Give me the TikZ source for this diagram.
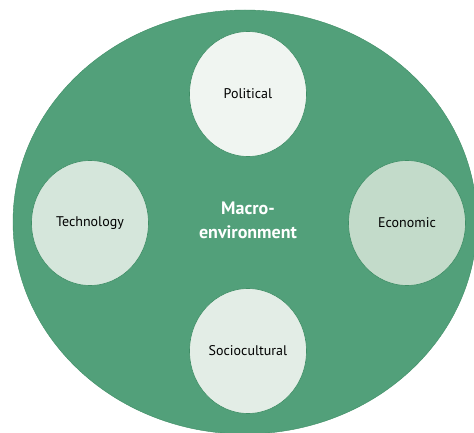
\documentclass[tikz,border=0pt]{standalone}
\usepackage{fontspec}
\setmainfont{PT Sans}
\usetikzlibrary{shapes.geometric}
\definecolor{envgreen}{HTML}{52A07A}
\definecolor{edgegreen}{HTML}{3F8E66}
\tikzstyle{factor}=[ellipse,draw=edgegreen,line width=0.6pt,minimum width=117pt,minimum height=125pt,inner sep=0pt,font=\fontsize{14}{16}\selectfont,text=black]

\begin{document}
\begin{tikzpicture}[x=1pt,y=1pt]
		\useasboundingbox (0,0) rectangle (474,432);
		\fill[white] (0,0) rectangle (474,432);
		\node[ellipse,fill=envgreen,draw=edgegreen,minimum width=464pt,minimum height=424pt,inner sep=0pt] (env) at (245,210) {};
		\node[align=center,text=white,font=\fontsize{18}{24}\bfseries] (macro) at (248,212) {Macro-\\environment};
		\node[factor,fill={rgb,255:red,240;green,245;blue,241}] (pol) at (248,338) {Political};
		\node[factor,fill={rgb,255:red,213;green,230;blue,219}] (tech) at (90,209) {Technology};
		\node[factor,fill={rgb,255:red,195;green,219;blue,202}] (eco) at (407,209) {Economic};
		\node[factor,fill={rgb,255:red,227;green,237;blue,230}] (soc) at (248,81) {Sociocultural};
\end{tikzpicture}
\end{document}
